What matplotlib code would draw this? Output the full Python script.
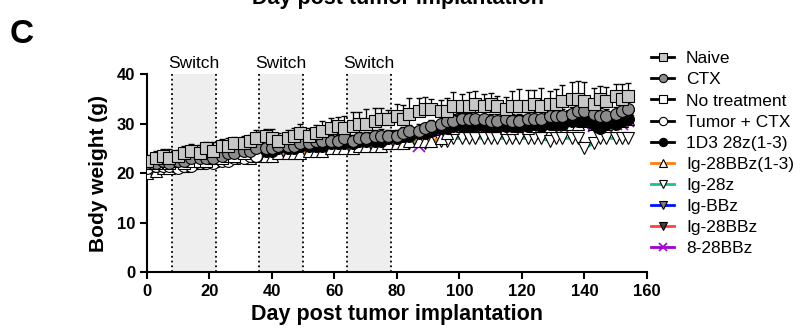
import numpy as np
import matplotlib.pyplot as plt

plt.rcParams['font.family'] = ['Liberation Sans', 'DejaVu Sans']

# days of measurement
days = np.array([0, 3, 5, 7, 10, 12, 14, 17, 19, 21,
                 24, 26, 28, 31, 33, 35, 38, 40, 42, 45,
                 47, 49, 52, 54, 56, 59, 61, 63, 66, 68,
                 70, 73, 75, 77, 80, 82, 84, 87, 89, 91,
                 94, 96, 98, 101, 103, 105, 108, 110, 112, 115,
                 117, 119, 122, 124, 126, 129, 131, 133, 136, 138,
                 140, 143, 145, 147, 150, 152, 154])

naive = [22.5, 23, 23.5, 23, 23.5, 24, 24.5, 24, 25, 24.5,
         25.5, 25.5, 26, 26, 26.5, 27, 27.5, 27, 26.5, 27,
         27.5, 28, 27.5, 28, 28.5, 29, 29.5, 29, 29.5, 30,
         30, 30.5, 31, 31, 31.5, 31, 32, 32.5, 33, 33,
         32.5, 32.5, 33.5, 33.5, 33.5, 34, 33.5, 34, 33.5, 33,
         33.5, 33.5, 33.5, 34, 33.5, 34, 34, 34.5, 35, 35,
         34.5, 34, 35, 34.5, 35.5, 35, 35.5]
naive_err = [1.2, 1.5, 1.3, 1.8, 1.2, 1.5, 1.4, 1.6, 1.2, 1.8,
             1.4, 1.6, 1.3, 1.5, 1.2, 1.6, 1.4, 1.8, 1.5, 1.7,
             1.6, 1.9, 1.5, 1.8, 2.0, 2.2, 1.9, 2.5, 2.8, 2.4,
             3.0, 2.6, 2.2, 1.8, 2.5, 2.8, 3.2, 2.6, 2.4, 2.0,
             2.2, 2.6, 2.8, 2.4, 2.8, 2.6, 2.5, 2.2, 2.0, 2.4,
             3.0, 3.4, 3.2, 2.8, 3.6, 2.6, 3.0, 3.2, 3.4, 3.6,
             3.8, 3.2, 2.6, 2.8, 2.4, 3.0, 2.6]
ctx = [22, 22, 22.5, 22, 22.5, 22.5, 23, 23, 23, 23,
       23.5, 24, 24, 24.5, 24.5, 25, 25, 25, 25.5, 25.5,
       25.5, 26, 26, 26.5, 26.5, 26.5, 26.5, 27, 26.5, 27,
       27, 27.5, 27.5, 27.5, 27.5, 28, 28.5, 28.5, 29, 29.5,
       30, 30.5, 30.5, 31, 31, 31, 31, 30.5, 30.5, 31,
       30.5, 30.5, 31, 31, 31, 31.5, 31.5, 31.5, 32, 32.5,
       32.5, 32, 31.5, 31.5, 32, 32.5, 33]
ctx_err = [0.8, 0.7, 0.9, 0.8, 0.7, 0.9, 0.8, 1.0, 0.9, 0.8,
           0.9, 1.0, 0.8, 0.9, 1.0, 0.9, 1.1, 0.9, 1.0, 1.0,
           1.0, 1.1, 1.0, 1.2, 1.0, 1.1, 1.2, 1.0, 1.1, 1.2,
           1.2, 1.1, 1.3, 1.2, 1.2, 1.3, 1.2, 1.4, 1.2, 1.3,
           1.3, 1.2, 1.4, 1.3, 1.2, 1.4, 1.3, 1.5, 1.4, 1.3,
           1.4, 1.5, 1.3, 1.4, 1.5, 1.4, 1.6, 1.5, 1.4, 1.6,
           1.5, 1.4, 1.6, 1.5, 1.4, 1.6, 1.5]
no_treatment = [22, 22, 22.5, 22, 22.5, 22, 22.5, 22.5, 22.5, 23,
                23, 23.5, 23.5, 24]
tumor_ctx = [21, 21.5, 21.5, 21.5, 21, 21.5, 21.5, 22, 22, 22,
             22.5, 22.5, 23, 23, 23.5, 23.5]
d3_28z = [21.5, 21.5, 22, 22, 22, 22.5, 22.5, 23, 23, 23,
          23.5, 23.5, 24, 24, 24.5, 24.5, 24.5, 24.5, 25, 25,
          25, 25.5, 25.5, 25.5, 25.5, 26, 26, 26, 26, 26.5,
          26.5, 26.5, 26.5, 27, 27, 27.5, 27.5, 28, 28, 28.5,
          29, 29, 29.5, 29.5, 29.5, 29.5, 29.5, 29.5, 29.5, 29.5,
          29.5, 29.5, 29.5, 30, 29.5, 30, 30, 30, 30.5, 30.5,
          30.5, 30, 29, 30, 30, 30.5, 31]
ig_28bbz_13 = [20, 20.5, 21, 21, 21.5, 21.5, 22, 22, 22.5, 22.5,
               23, 23, 23, 23.5, 23, 23.5, 23.5, 23.5, 24, 24,
               24, 24, 24.5, 24.5, 24.5, 25, 25, 25, 25, 25.5,
               25.5, 25.5, 25.5, 26, 26, 26, 26.5, 26.5, 26.5, 26.5,
               27, 28, 29, 29.5, 29.5, 29.5, 29.5, 29.5, 29.5, 29,
               29, 29.5, 29, 29.5, 29.5, 29.5, 30, 30, 30, 30,
               30.5, 30, 30, 30, 30.5, 30.5, 31]
ig_28z = [20.5, 21, 21, 21.5, 21.5, 22, 22, 22, 22.5, 22.5,
          23, 23, 23.5, 23.5, 23.5, 24, 24, 24, 24, 24.5,
          24.5, 24.5, 24.5, 24.5, 25, 25, 25, 25, 25.5, 25.5,
          25.5, 25.5, 26, 26, 26.5, 26, 26, 26.5, 26, 26.5,
          26.5, 26.5, 27, 27, 27, 27, 27, 27, 27, 27,
          27, 27, 27, 27, 27, 26.5, 27, 27, 27, 27,
          25, 26, 27, 27, 27, 27, 27]
ig_bbz = [21, 21.5, 21.5, 22, 22, 22, 22.5, 22.5, 23, 23,
          23.5, 23.5, 23.5, 24, 24, 24.5, 24.5, 24.5, 24.5, 25,
          25, 25, 25.5, 25.5, 25.5, 25.5, 26, 26, 26, 26,
          26.5, 26.5, 26.5, 27, 27, 27, 27.5, 27.5, 28, 28,
          28.5, 29.5, 30, 30.5, 30, 30, 29.5, 29.5, 30, 30,
          30, 30, 30, 30, 30, 30, 30.5, 30.5, 30.5, 31,
          31, 29.5, 30, 30.5, 30.5, 31, 31.5]
ig_28bbz = [21.5, 21.5, 22, 22, 22, 22.5, 22.5, 23, 23, 23.5,
            23.5, 24, 24, 24, 24.5, 24.5, 25, 25, 25, 25,
            25.5, 25.5, 25.5, 26, 26, 26, 26, 26.5, 26.5, 26.5,
            26.5, 27, 27, 27, 27.5, 27.5, 28, 28, 28, 28.5,
            29, 30, 30.5, 31, 30.5, 30.5, 30, 30, 30, 30,
            30, 30.5, 30.5, 30.5, 30.5, 31, 31, 31, 31.5, 31.5,
            31.5, 31, 30.5, 31, 31, 31.5, 32]
cd8_28bbz = [21, 21, 21.5, 21.5, 22, 22, 22, 22.5, 22.5, 23,
             23, 23, 23.5, 23.5, 24, 24, 24, 24, 24.5, 24.5,
             24.5, 25, 25, 25, 25, 25.5, 25.5, 25.5, 25.5, 26,
             26, 26, 26, 26.5, 26.5, 26.5, 27, 25.5, 27, 27.5,
             28, 28.5, 29, 29, 29, 29, 29, 28.5, 29, 28.5,
             29, 29, 29, 29, 29.5, 29.5, 29.5, 29.5, 30, 30,
             30, 29.5, 29.5, 29.5, 30, 30, 30.5]

switch_starts = [8, 36, 64]
switch_ends = [22, 50, 78]

fig = plt.figure(figsize=(8.01, 3.35), dpi=100)
ax = fig.add_axes([0.1835, 0.188, 0.624, 0.591])

for s, e in zip(switch_starts, switch_ends):
    ax.axvspan(s, e, color='#eeeeee', zorder=0, lw=0)
    ax.axvline(s, color='black', ls=':', lw=1.3, zorder=1)
    ax.axvline(e, color='black', ls=':', lw=1.3, zorder=1)
    ax.text((s + e) / 2, 40.6, 'Switch', ha='center', va='bottom', fontsize=12.5)

ms = 8.5
# (label, y, line colour, marker, face colour, day count)
series = [
    ('Naive', naive, 'black', 's', '#c8c8c8', len(days)),
    ('CTX', ctx, 'black', 'o', '#8c8c8c', len(days)),
    ('No treatment', no_treatment, 'black', 's', 'white', len(no_treatment)),
    ('Tumor + CTX', tumor_ctx, 'black', 'o', 'white', len(tumor_ctx)),
    ('1D3 28z(1-3)', d3_28z, 'black', 'o', 'black', len(days)),
    ('Ig-28BBz(1-3)', ig_28bbz_13, '#ff7f0e', '^', 'white', len(days)),
    ('Ig-28z', ig_28z, '#1fbf8a', 'v', 'white', len(days)),
    ('Ig-BBz', ig_bbz, '#0010ff', 'v', '#808080', len(days)),
    ('Ig-28BBz', ig_28bbz, '#ff4040', 'v', '#404040', len(days)),
    ('8-28BBz', cd8_28bbz, '#a000d0', 'x', 'none', len(days)),
]

handles = []
n = len(series)
for i, (lab, y, lc, mk, fc, cnt) in enumerate(series):
    z = 3 + (n - i)
    x = days[:cnt]
    if mk == 'x':
        h, = ax.plot(x, y, color=lc, lw=2, marker='x', ms=ms, mec=lc,
                     mew=1.2, zorder=z, label=lab)
    else:
        h, = ax.plot(x, y, color=lc, lw=2, marker=mk, ms=ms, mfc=fc,
                     mec='black', mew=0.8, zorder=z, label=lab)
    if lab == 'Naive':
        ax.errorbar(x, y, yerr=[np.zeros(cnt), naive_err], fmt='none',
                    ecolor='black', elinewidth=0.9, capsize=2.5, zorder=z - 0.5)
    if lab == 'CTX':
        ax.errorbar(x, y, yerr=[np.zeros(cnt), ctx_err], fmt='none',
                    ecolor='black', elinewidth=0.9, capsize=2.5, zorder=z - 0.5)
    handles.append(h)

ax.set_xlim(0, 160)
ax.set_ylim(0, 40)
ax.set_xticks(np.arange(0, 161, 20))
ax.set_yticks(np.arange(0, 41, 10))
for sp in ['top', 'right']:
    ax.spines[sp].set_visible(False)
for sp in ['left', 'bottom']:
    ax.spines[sp].set_linewidth(1.5)
ax.tick_params(width=1.5, length=5, labelsize=12)
for lbl in ax.get_xticklabels() + ax.get_yticklabels():
    lbl.set_fontweight('bold')

ax.set_xlabel('Day post tumor implantation', fontsize=15.5, fontweight='bold', labelpad=4)
ax.set_ylabel('Body weight (g)', fontsize=15, fontweight='bold', labelpad=6)

leg = ax.legend(handles=handles, loc='upper left', bbox_to_anchor=(0.995, 1.15),
                frameon=False, fontsize=12.5, handlelength=1.3, handletextpad=0.7,
                labelspacing=0.34, borderaxespad=0, markerscale=0.7)

fig.text(0.012, 0.872, 'C', fontsize=24, fontweight='bold', va='baseline')
fig.text(0.497, 1 - 4 / 335, 'Day post tumor implantation', fontsize=15.5,
         fontweight='bold', ha='center', va='baseline')

fig.savefig('out.png', dpi=100)
